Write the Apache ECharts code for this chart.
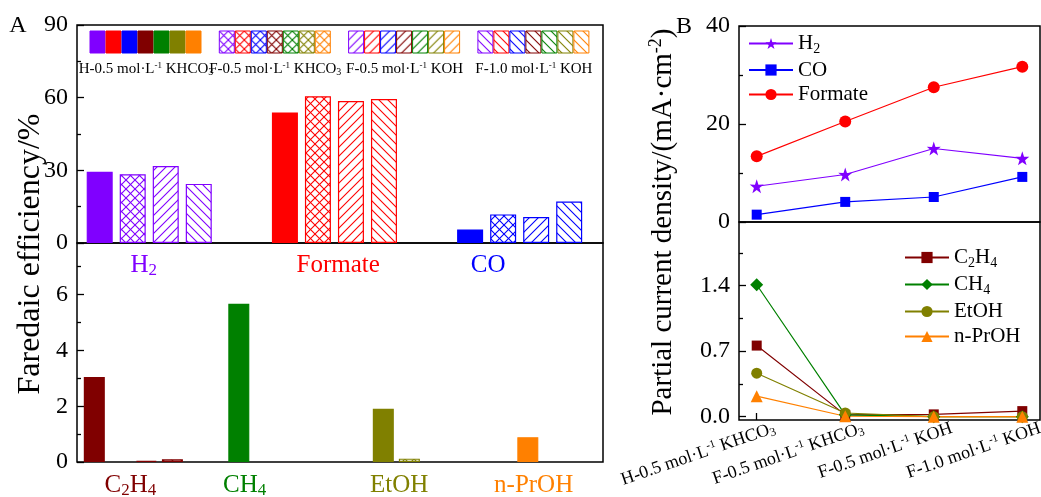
<!DOCTYPE html>
<html><head><meta charset="utf-8">
<script src="https://cdn.jsdelivr.net/npm/echarts@6/dist/echarts.min.js"></script>
<style>html,body{margin:0;padding:0;background:#fff}#c{width:1041px;height:497px}</style>
</head><body><div id="c"></div>
<script>
// ---------------- data ----------------
const conditions = ['H-0.5 mol·L⁻¹ KHCO₃', 'F-0.5 mol·L⁻¹ KHCO₃', 'F-0.5 mol·L⁻¹ KOH', 'F-1.0 mol·L⁻¹ KOH'];
const majorProducts = ['H₂', 'Formate', 'CO'];
const minorProducts = ['C₂H₄', 'CH₄', 'EtOH', 'n-PrOH'];
// Faradaic efficiency (%) – one array per condition, ordered like majorProducts / minorProducts
const feMajorH05KHCO3 = [29.4, 53.9, 5.6];
const feMajorF05KHCO3 = [28.4, 60.6, 11.8];
const feMajorF05KOH = [31.8, 58.6, 10.7];
const feMajorF10KOH = [24.4, 59.4, 17.1];
const feMinorH05KHCO3 = [3.05, 5.67, 1.91, 0.89];
const feMinorF05KHCO3 = [0, 0, 0.12, 0];
const feMinorF05KOH = [0.04, 0, 0, 0];
const feMinorF10KOH = [0.10, 0, 0, 0];
// Partial current density (mA·cm⁻²) – ordered like conditions
const jH2 = [7.3, 9.7, 15.0, 13.0];
const jCO = [1.5, 4.1, 5.1, 9.2];
const jFormate = [13.4, 20.5, 27.5, 31.7];
const jC2H4 = [0.76, 0.02, 0.025, 0.06];
const jCH4 = [1.41, 0.02, 0, 0];
const jEtOH = [0.465, 0.04, 0, 0];
const jPrOH = [0.22, 0.005, 0, 0];
// tick labels
const feTicksTop = [0, 30, 60, 90];
const feTicksBottom = [0, 2, 4, 6];
const jTicksTop = [0, 20, 40];
const jTicksBottom = [0, 0.7, 1.4];

// ---------------- layout (positions of product names along the panel-A axes) ----------------
const majorLabelAt = [-0.03, 1.02, 1.83];
const minorLabelAt = [-0.02, 0.77, 1.84, 2.77];

// ---------------- styling helpers ----------------
const FONT = '"Liberation Serif", "Times New Roman", serif';
const productColor = {
  'H₂': '#8000ff', 'Formate': '#ff0000', 'CO': '#0000ff',
  'C₂H₄': '#800000', 'CH₄': '#008000', 'EtOH': '#808000', 'n-PrOH': '#ff8000'
};
const legendColors = ['#8000ff', '#ff0000', '#0000ff', '#800000', '#008000', '#808000', '#ff8000'];
const patternKinds = ['solid', 'cross', 'diag', 'back'];

function hatch(color, kind) {
  const s = 9;
  const c = document.createElement('canvas'); c.width = s; c.height = s;
  const g = c.getContext('2d');
  g.fillStyle = '#fff'; g.fillRect(0, 0, s, s);
  g.strokeStyle = color; g.lineWidth = 1.1;
  const diag = () => { g.beginPath(); g.moveTo(-1, s + 1); g.lineTo(s + 1, -1); g.moveTo(-2, 2); g.lineTo(2, -2); g.moveTo(s - 2, s + 2); g.lineTo(s + 2, s - 2); g.stroke(); };
  const back = () => { g.beginPath(); g.moveTo(-1, -1); g.lineTo(s + 1, s + 1); g.moveTo(s - 2, -2); g.lineTo(s + 2, 2); g.moveTo(-2, s - 2); g.lineTo(2, s + 2); g.stroke(); };
  if (kind === 'diag') diag(); else if (kind === 'back') back(); else { diag(); back(); }
  return { image: c, repeat: 'repeat' };
}
function fillFor(color, kind) { return kind === 'solid' ? color : hatch(color, kind); }

function toRich(text, key) {
  const sub = '₀₁₂₃₄₅₆₇₈₉', sup = { '⁻': '-', '¹': '1', '²': '2', '³': '3' };
  let out = '', mode = null, buf = '';
  const flush = () => { if (buf) out += '{' + key + (mode === 'b' ? 'b' : mode === 'p' ? 'p' : '') + '|' + buf + '}'; buf = ''; };
  for (const ch of text) {
    let m, c;
    if (sub.includes(ch)) { m = 'b'; c = String(sub.indexOf(ch)); }
    else if (ch in sup) { m = 'p'; c = sup[ch]; }
    else { m = 'n'; c = ch; }
    if (m !== mode) { flush(); mode = m; }
    buf += c;
  }
  flush();
  return out;
}
function richSet(key, color, size, lh) {
  const r = {};
  r[key] = { color, fontSize: size, fontFamily: FONT, lineHeight: lh };
  r[key + 'b'] = { color, fontSize: Math.round(size * 0.68), fontFamily: FONT, lineHeight: Math.round(size * 0.68), verticalAlign: 'bottom' };
  r[key + 'p'] = { color, fontSize: Math.round(size * 0.62), fontFamily: FONT, lineHeight: Math.round(size * 0.62), verticalAlign: 'top' };
  return r;
}

// ---------------- build series ----------------
const feMajor = [feMajorH05KHCO3, feMajorF05KHCO3, feMajorF05KOH, feMajorF10KOH];
const feMinor = [feMinorH05KHCO3, feMinorF05KHCO3, feMinorF05KOH, feMinorF10KOH];

function barSeries(products, values, kind, xi, yi, width, gap) {
  return {
    type: 'bar', xAxisIndex: xi, yAxisIndex: yi, barWidth: width, barGap: gap, silent: true,
    data: products.map((p, i) => ({
      value: [i, values[i]],
      itemStyle: { color: fillFor(productColor[p], kind), borderColor: productColor[p], borderWidth: values[i] > 0 ? 1.2 : 0 }
    }))
  };
}
const series = [];
feMajor.forEach((v, j) => series.push(barSeries(majorProducts, v, patternKinds[j], 0, 0, 26, '27%')));
feMinor.forEach((v, j) => series.push(barSeries(minorProducts, v, patternKinds[j], 1, 1, 21, '24%')));

const STAR = 'path://M50,0 L61.8,35.4 L97.6,34.5 L68.8,57.3 L79.4,90.5 L50,70 L20.6,90.5 L31.2,57.3 L2.4,34.5 L38.2,35.4 Z';
function lineSeries(name, values, symbol, size, xi, yi) {
  const c = productColor[name];
  return {
    type: 'line', name, xAxisIndex: xi, yAxisIndex: yi, symbol, symbolSize: size, silent: true,
    itemStyle: { color: c }, lineStyle: { color: c, width: 1.2 },
    data: conditions.map((cond, i) => [i + 1, values[i]])
  };
}
series.push(lineSeries('H₂', jH2, STAR, 14, 2, 3));
series.push(lineSeries('CO', jCO, 'rect', 10, 2, 3));
series.push(lineSeries('Formate', jFormate, 'circle', 12, 2, 3));
series.push(lineSeries('C₂H₄', jC2H4, 'rect', 10, 3, 4));
series.push(lineSeries('CH₄', jCH4, 'diamond', 13, 3, 4));
series.push(lineSeries('EtOH', jEtOH, 'circle', 11, 3, 4));
series.push(lineSeries('n-PrOH', jPrOH, 'triangle', 12, 3, 4));

// ---------------- axes ----------------
const noLine = { show: false, onZero: false };
const tickBase = { show: true, inside: true, length: 7, lineStyle: { color: '#000', width: 1.3 } };
const labelBase = { color: '#000', fontFamily: FONT, fontSize: 24, margin: 9 };
function yMain(grid, min, max, ticks, fmt) {
  return {
    type: 'value', gridIndex: grid, position: 'left', offset: 0, min, max, axisLine: noLine, splitLine: { show: false },
    axisTick: Object.assign({}, tickBase, { customValues: ticks }),
    axisLabel: Object.assign({}, labelBase, { customValues: ticks, formatter: fmt || (v => String(v)) })
  };
}
function yMinor(grid, min, max, ticks) {
  const step = ticks[1] - ticks[0];
  const mids = ticks.map(t => t + step / 2).filter(v => v < max);
  return {
    type: 'value', gridIndex: grid, position: 'left', offset: 0, min, max, axisLine: noLine, splitLine: { show: false },
    axisTick: Object.assign({}, tickBase, { customValues: mids, length: 4 }), axisLabel: { show: false }
  };
}
const majorRich = {}; majorProducts.forEach((p, i) => Object.assign(majorRich, richSet('m' + i, productColor[p], 25, 28)));
const minorRich = {}; minorProducts.forEach((p, i) => Object.assign(minorRich, richSet('n' + i, productColor[p], 25, 28)));
const condRich = richSet('c', '#000', 18, 20);

const xAxes = [
  { type: 'value', gridIndex: 0, position: 'bottom', min: -0.39, max: 2.45, axisLine: noLine, axisTick: { show: false }, splitLine: { show: false },
    axisLabel: { customValues: majorLabelAt, margin: 8, formatter: v => { const i = majorLabelAt.indexOf(v); return toRich(majorProducts[i], 'm' + i); }, rich: majorRich } },
  { type: 'value', gridIndex: 1, position: 'bottom', min: -0.39, max: 3.25, axisLine: noLine, axisTick: { show: false }, splitLine: { show: false },
    axisLabel: { customValues: minorLabelAt, margin: 9, formatter: v => { const i = minorLabelAt.indexOf(v); return toRich(minorProducts[i], 'n' + i); }, rich: minorRich } },
  { type: 'value', gridIndex: 2, position: 'bottom', min: 0.8, max: 4.2, axisLine: noLine, axisTick: { show: false }, axisLabel: { show: false }, splitLine: { show: false } },
  { type: 'value', gridIndex: 3, position: 'bottom', min: 0.8, max: 4.2, axisLine: noLine, splitLine: { show: false },
    axisTick: Object.assign({}, tickBase, { customValues: conditions.map((c, i) => i + 1) }),
    axisLabel: { customValues: conditions.map((c, i) => i + 1), rotate: 19, margin: 14, padding: [0, -19, 0, 0],
      formatter: v => toRich(conditions[Math.round(v) - 1], 'c'), rich: condRich } }
];
const yAxes = [
  yMain(0, 0, 90, feTicksTop),
  yMain(1, 0, 7.85, feTicksBottom),
  yMinor(1, 0, 7.85, feTicksBottom),
  yMain(2, 0, 40, jTicksTop),
  yMain(3, -0.035, 2.08, jTicksBottom, v => v.toFixed(1)),
  yMinor(3, -0.035, 2.08, jTicksBottom),
  yMinor(0, 0, 90, feTicksTop),
  yMinor(2, 0, 40, jTicksTop)
];

const gridBase = { show: true, borderColor: '#000', borderWidth: 1.5, backgroundColor: 'transparent', containLabel: false, outerBoundsMode: 'none' };
const grids = [
  Object.assign({ left: 77, top: 25, width: 526, height: 218 }, gridBase),
  Object.assign({ left: 77, top: 243, width: 526, height: 219 }, gridBase),
  Object.assign({ left: 739, top: 26, width: 301, height: 196 }, gridBase),
  Object.assign({ left: 739, top: 222, width: 301, height: 198 }, gridBase)
];

// ---------------- panel A pattern legend (graphic) ----------------
const graphics = [];
patternKinds.forEach((kind, g) => {
  const gx = 90 + g * 129.3;
  legendColors.forEach((col, k) => {
    graphics.push({ type: 'rect', x: gx + k * 16, y: 31, shape: { width: 15, height: 22 },
      style: { fill: fillFor(col, kind), stroke: col, lineWidth: 1 }, silent: true });
  });
  graphics.push({ type: 'text', x: gx + 56, y: 69, silent: true,
    style: { text: toRich(conditions[g], 'lt'), align: 'center', verticalAlign: 'middle', rich: richSet('lt', '#000', 15, 16) } });
});
graphics.push({ type: 'text', x: 18, y: 26, silent: true, style: { text: 'A', font: '24px ' + FONT, fill: '#000', align: 'center', verticalAlign: 'middle' } });
graphics.push({ type: 'text', x: 684, y: 27, silent: true, style: { text: 'B', font: '24px ' + FONT, fill: '#000', align: 'center', verticalAlign: 'middle' } });
graphics.push({ type: 'text', x: 31, y: 254, rotation: Math.PI / 2, silent: true,
  style: { text: 'Faredaic efficiency/%', font: '32px ' + FONT, fill: '#000', align: 'center', verticalAlign: 'middle' } });
graphics.push({ type: 'text', x: 663, y: 222, rotation: Math.PI / 2, silent: true,
  style: { text: toRich('Partial current density/(mA·cm⁻²)', 'ya'), align: 'center', verticalAlign: 'middle', rich: richSet('ya', '#000', 29, 32) } });

const legRich = richSet('lg', '#000', 21, 25);
const option = {
  animation: false,
  backgroundColor: '#fff',
  grid: grids,
  xAxis: xAxes,
  yAxis: yAxes,
  legend: [
    { data: ['H₂', 'CO', 'Formate'], orient: 'vertical', left: 743, top: 28, itemWidth: 44, itemHeight: 14, itemGap: 3.5,
      formatter: n => toRich(n, 'lg'), textStyle: { rich: legRich }, selectedMode: false },
    { data: minorProducts, orient: 'vertical', left: 899, top: 242, itemWidth: 44, itemHeight: 14, itemGap: 4,
      formatter: n => toRich(n, 'lg'), textStyle: { rich: legRich }, selectedMode: false }
  ],
  graphic: graphics,
  series
};
const chart = echarts.init(document.getElementById('c'), null, { renderer: 'canvas' });
chart.setOption(option);
</script></body></html>
